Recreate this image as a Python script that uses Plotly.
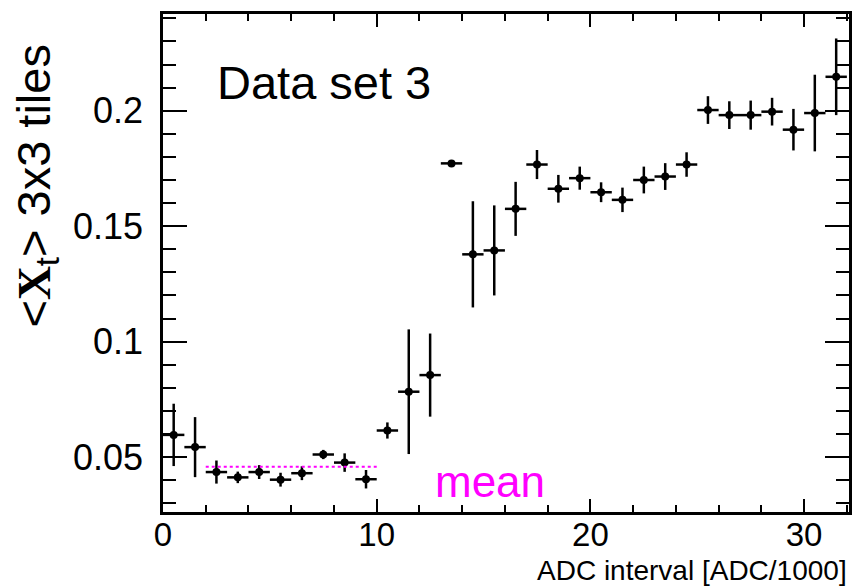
import plotly.graph_objects as go

x_centers = [i + 0.5 for i in range(32)]
values = [0.0596, 0.0543, 0.0435, 0.0412, 0.0435, 0.0402, 0.0430, 0.0511,
          0.0476, 0.0404, 0.0615, 0.0783, 0.0855, 0.1772, 0.1378, 0.1395,
          0.1575, 0.1767, 0.1662, 0.1708, 0.1647, 0.1614, 0.1700, 0.1715,
          0.1767, 0.2003, 0.1981, 0.1981, 0.1996, 0.1918, 0.1990, 0.2147]
errors = [0.0135, 0.0130, 0.0050, 0.0025, 0.0030, 0.0030, 0.0030, 0.0020,
          0.0040, 0.0040, 0.0035, 0.0270, 0.0180, 0.0008, 0.0230, 0.0195,
          0.0117, 0.0063, 0.0060, 0.0050, 0.0043, 0.0053, 0.0058, 0.0058,
          0.0053, 0.0060, 0.0060, 0.0063, 0.0060, 0.0090, 0.0166, 0.0166]
bin_half_width = [0.5] * 32

mean_x = [2, 10]
mean_y = [0.0458, 0.0458]

fig = go.Figure()
fig.add_trace(go.Scatter(
    x=x_centers, y=values, mode="markers",
    marker=dict(color="black", size=8),
    error_y=dict(type="data", array=errors, color="black", thickness=2.5, width=0),
    error_x=dict(type="data", array=bin_half_width, color="black", thickness=2.5, width=0),
    showlegend=False,
))
fig.add_trace(go.Scatter(
    x=mean_x, y=mean_y, mode="lines",
    line=dict(color="#ff00ff", width=2, dash="dot"),
    showlegend=False,
))

font = "Liberation Sans, Arial, sans-serif"
fig.update_layout(
    width=853, height=587,
    margin=dict(l=163, r=1, t=14, b=75),
    paper_bgcolor="white", plot_bgcolor="white",
    font=dict(family=font, color="black"),
    xaxis=dict(
        range=[0, 32.1], tickvals=[0, 10, 20, 30], ticktext=["0", "10", "20", "30"],
        ticks="inside", ticklen=13, tickwidth=2, tickcolor="black",
        minor=dict(ticks="inside", dtick=2, tick0=0, ticklen=7, tickwidth=2, tickcolor="black"),
        showline=True, linewidth=2.5, linecolor="black", mirror="ticks",
        showgrid=False, zeroline=False,
        tickfont=dict(size=33, family=font),
        ticklabelstandoff=-8,
    ),
    yaxis=dict(
        range=[0.0262, 0.2419], tickvals=[0.05, 0.1, 0.15, 0.2],
        ticktext=["0.05", "0.1", "0.15", "0.2"],
        ticks="inside", ticklen=24, tickwidth=2, tickcolor="black",
        minor=dict(ticks="inside", dtick=0.01, tick0=0, ticklen=13, tickwidth=2, tickcolor="black"),
        showline=True, linewidth=2.5, linecolor="black", mirror="ticks",
        showgrid=False, zeroline=False,
        tickfont=dict(size=36, family=font),
        ticklabelstandoff=10,
    ),
    annotations=[
        dict(text="Data set 3", xref="paper", yref="paper", x=0.076, y=0.863,
             xanchor="left", yanchor="middle", showarrow=False,
             font=dict(size=47, family=font, color="black")),
        dict(text="mean", xref="paper", yref="paper", x=(434 - 163) / 689, y=(512 - 481) / 498,
             xanchor="left", yanchor="middle", showarrow=False,
             font=dict(size=44, family=font, color="#ff00ff")),
        dict(text="ADC interval [ADC/1000]", xref="paper", yref="paper", x=1.0, y=(512 - 570) / 498,
             xanchor="right", yanchor="middle", showarrow=False,
             font=dict(size=28, family=font, color="black")),
        dict(text="&lt;<span style='font-family:Liberation Serif'><b>X</b></span><sub>t</sub>&gt; 3x3 tiles",
             xref="paper", yref="paper", x=(36 - 163) / 689, y=(512 - 186) / 498,
             xanchor="center", yanchor="middle", textangle=-90, showarrow=False,
             font=dict(size=47, family=font, color="black")),
    ],
)

fig.write_html("out.html")
